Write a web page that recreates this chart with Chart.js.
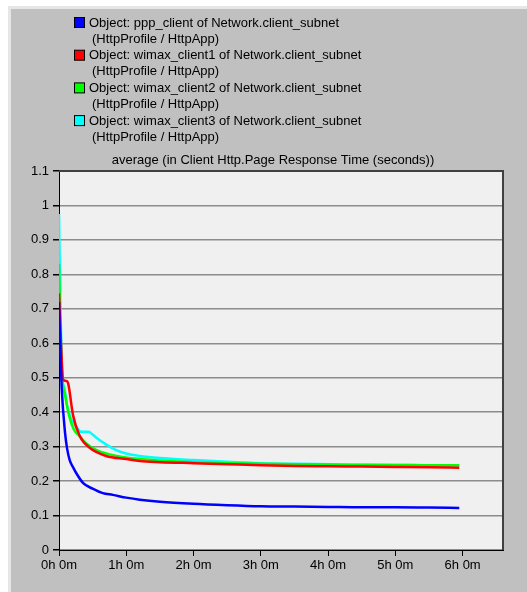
<!DOCTYPE html>
<html>
<head>
    <title>Page Response Time</title>
    <script src="https://cdn.jsdelivr.net/npm/chart.js"></script>
    <style>
        html, body { margin: 0; padding: 0; background: #fff; }
        .chart-container { width: 527px; height: 592px; }
    </style>
</head>
<body>
    <div class="chart-container">
        <canvas id="responseChart" width="527" height="592"></canvas>
    </div>

    <script>
        // series names (two legend lines each)
        var seriesNames = [
            'Object: ppp_client of Network.client_subnet',
            'Object: wimax_client1 of Network.client_subnet',
            'Object: wimax_client2 of Network.client_subnet',
            'Object: wimax_client3 of Network.client_subnet'
        ];
        var seriesSub = '(HttpProfile / HttpApp)';
        var seriesColors = ['#0000ff', '#ff0000', '#00ff00', '#00ffff'];
        var chartTitle = 'average (in Client Http.Page Response Time (seconds))';

        // time in hours, values in seconds
        var pppHours = [0, 0.02, 0.04, 0.09, 0.12, 0.16, 0.21, 0.26, 0.36, 0.5, 0.65, 0.8, 1.0, 1.2, 1.5, 2.0, 2.5, 3.0, 3.5, 4.0, 4.5, 5.0, 5.5, 5.95];
        var pppValues = [0.72, 0.58, 0.47, 0.34, 0.295, 0.26, 0.24, 0.222, 0.194, 0.178, 0.165, 0.16, 0.152, 0.146, 0.14, 0.134, 0.13, 0.127, 0.126, 0.125, 0.124, 0.124, 0.123, 0.122];

        var wimax1Hours = [0, 0.03, 0.06, 0.12, 0.14, 0.21, 0.31, 0.46, 0.7, 1.0, 1.2, 1.5, 2.0, 2.5, 3.0, 3.5, 4.0, 4.5, 5.0, 5.5, 5.95];
        var wimax1Values = [0.745, 0.6, 0.495, 0.49, 0.48, 0.39, 0.33, 0.296, 0.273, 0.264, 0.258, 0.255, 0.252, 0.249, 0.246, 0.244, 0.243, 0.242, 0.241, 0.24, 0.239];

        var wimax2Hours = [0, 0.02, 0.05, 0.09, 0.15, 0.22, 0.31, 0.4, 0.56, 0.86, 1.2, 1.5, 2.0, 2.5, 3.0, 3.5, 4.0, 4.5, 5.0, 5.5, 5.95];
        var wimax2Values = [0.83, 0.65, 0.5, 0.45, 0.39, 0.35, 0.33, 0.31, 0.29, 0.273, 0.264, 0.26, 0.255, 0.252, 0.25, 0.249, 0.248, 0.247, 0.247, 0.246, 0.246];

        var wimax3Hours = [0, 0.02, 0.05, 0.08, 0.12, 0.18, 0.25, 0.33, 0.44, 0.5, 0.56, 0.71, 0.85, 1.0, 1.2, 1.5, 2.0, 2.5, 3.0, 3.5, 4.0, 4.5, 5.0, 5.5, 5.95];
        var wimax3Values = [0.975, 0.72, 0.5, 0.47, 0.42, 0.38, 0.36, 0.343, 0.343, 0.335, 0.325, 0.305, 0.29, 0.28, 0.273, 0.267, 0.261, 0.256, 0.252, 0.25, 0.249, 0.248, 0.247, 0.246, 0.245];

        function toPoints(xs, ys) {
            return xs.map(function(x, i) { return {x: x, y: ys[i]}; });
        }

        var seriesData = [
            toPoints(pppHours, pppValues),
            toPoints(wimax1Hours, wimax1Values),
            toPoints(wimax2Hours, wimax2Values),
            toPoints(wimax3Hours, wimax3Values)
        ];

        var FONT = 'Liberation Sans, Arial, sans-serif';

        // grey window panel, plot background, frame, legend and title
        var panelPlugin = {
            id: 'panel',
            beforeDraw: function(chart) {
                var c = chart.ctx, a = chart.chartArea;
                c.save();
                c.fillStyle = '#ffffff';
                c.fillRect(0, 0, chart.width, chart.height);
                c.fillStyle = '#c0c0c0';
                c.fillRect(8, 6, chart.width - 8, chart.height - 6);
                c.fillStyle = '#e6e6e6';
                c.fillRect(8, 6, chart.width - 8, 3);
                c.fillRect(8, 6, 3, chart.height - 6);
                c.fillStyle = '#f0f0f0';
                c.fillRect(a.left, a.top, a.right - a.left, a.bottom - a.top);
                c.restore();
            },
            afterDatasetsDraw: function(chart) {
                var c = chart.ctx, a = chart.chartArea;
                c.save();
                c.strokeStyle = '#404040';
                c.lineWidth = 2;
                c.beginPath();
                c.moveTo(a.left, a.top);
                c.lineTo(a.right, a.top);
                c.lineTo(a.right, a.bottom);
                c.stroke();
                c.restore();
            },
            afterDraw: function(chart) {
                var c = chart.ctx;
                c.save();
                c.font = '13px ' + FONT;
                c.textBaseline = 'middle';
                c.fillStyle = '#000';
                chart.data.datasets.forEach(function(ds, i) {
                    var y = 23 + i * 32.7;
                    c.fillStyle = ds.borderColor;
                    c.fillRect(74.5, y - 5.5, 10, 10);
                    c.strokeStyle = '#000';
                    c.lineWidth = 1;
                    c.strokeRect(74.5, y - 5.5, 10, 10);
                    c.fillStyle = '#000';
                    c.fillText(ds.label, 89, y);
                    c.fillText(seriesSub, 92, y + 16);
                });
                c.textAlign = 'center';
                c.fillText(chartTitle, 273, 160);
                c.restore();
            }
        };

        var ctx = document.getElementById('responseChart').getContext('2d');
        var responseChart = new Chart(ctx, {
            type: 'line',
            data: {
                datasets: seriesData.map(function(d, i) {
                    return {
                        label: seriesNames[i],
                        data: d,
                        borderColor: seriesColors[i],
                        backgroundColor: seriesColors[i],
                        borderWidth: 2.5,
                        pointRadius: 0,
                        cubicInterpolationMode: 'monotone',
                        fill: false
                    };
                })
            },
            options: {
                responsive: false,
                animation: false,
                layout: {padding: {top: 171, right: 24, left: 0, bottom: 0}},
                plugins: {
                    legend: {display: false},
                    title: {display: false},
                    tooltip: {enabled: false}
                },
                scales: {
                    x: {
                        type: 'linear',
                        min: 0,
                        max: 6.6,
                        afterFit: function(s) { s.height = 42; },
                        grid: {drawOnChartArea: false, drawTicks: true, tickLength: 6, tickColor: '#000'},
                        border: {color: '#000', width: 1},
                        ticks: {
                            stepSize: 1,
                            includeBounds: false,
                            padding: 2,
                            maxRotation: 0,
                            color: '#000',
                            font: {family: FONT, size: 13},
                            callback: function(v) { return v + 'h 0m'; }
                        }
                    },
                    y: {
                        min: 0,
                        max: 1.1,
                        afterFit: function(s) { s.width = 59; },
                        grid: {color: '#8c8c8c', lineWidth: 1.5, drawTicks: true, tickLength: 6, tickColor: '#000'},
                        border: {color: '#000', width: 1},
                        ticks: {
                            stepSize: 0.1,
                            padding: 4,
                            color: '#000',
                            font: {family: FONT, size: 13},
                            callback: function(v) { return String(Number(v.toFixed(1))); }
                        }
                    }
                }
            },
            plugins: [panelPlugin]
        });
    </script>
</body>
</html>
